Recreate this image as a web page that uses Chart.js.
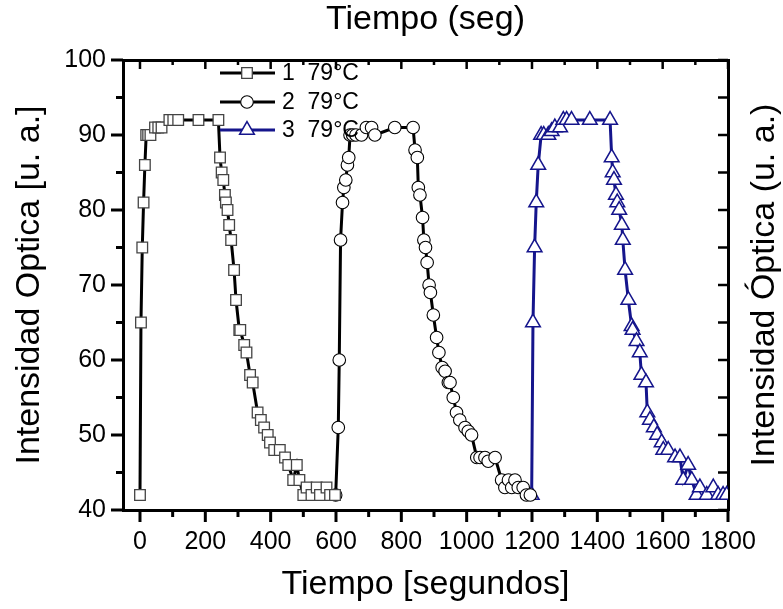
<!DOCTYPE html>
<html lang="es">
<head>
<meta charset="utf-8">
<title>Intensidad óptica vs tiempo</title>
<script src="https://cdn.jsdelivr.net/npm/chart.js@4.4.1/dist/chart.umd.min.js"></script>
<style>
  html, body { margin: 0; padding: 0; background: #fff; }
  canvas { display: block; }
</style>
</head>
<body>
<canvas id="grafico" width="783" height="609"></canvas>
<script>
// Datos (tiempo en segundos, intensidad en u. a.)
const tiempo1 = [0, 3, 7, 11, 15, 19, 25, 32, 46, 56, 66, 90, 102, 117, 179, 240,
  245, 250, 255, 260, 263, 268, 273, 279, 288, 294, 304, 307, 319, 326, 337, 345,
  360, 370, 380, 391, 398, 411, 428, 444, 454, 469, 480, 488, 500, 510, 525, 541,
  551, 571, 582, 597];
const intensidad1 = [42, 65, 75, 81, 86, 90, 90, 90, 91, 91, 91, 92, 92, 92, 92, 92,
  87, 85, 84, 82, 81, 80, 78, 76, 72, 68, 64, 64, 62, 61, 58, 57,
  53, 52, 51, 50, 49, 48, 48, 47, 46, 44, 46, 44, 42, 43, 42, 43,
  42, 43, 42, 42];

const tiempo2 = [599, 607, 610, 614, 620, 624, 630, 635, 639, 643, 651, 661, 678, 693,
  709, 719, 780, 836, 842, 849, 852, 857, 865, 869, 874, 879, 885, 889, 898, 908,
  915, 925, 934, 944, 949, 959, 969, 979, 995, 1005, 1015, 1031, 1041, 1056, 1066,
  1087, 1107, 1117, 1128, 1138, 1148, 1158, 1173, 1183, 1195];
const intensidad2 = [42, 51, 60, 76, 81, 83, 84, 86, 87, 90, 90, 90, 90, 91,
  91, 90, 91, 91, 88, 87, 83, 82, 79, 76, 75, 73, 70, 69, 66, 63,
  61, 59, 58.5, 57, 57, 55, 53, 52, 51, 50.5, 50, 47, 47, 47, 46.5,
  47, 44, 43, 44, 43, 44, 43, 43, 42, 42];

const tiempo3 = [1199, 1203, 1208, 1213, 1219, 1228, 1236, 1250, 1260, 1270, 1286, 1296,
  1306, 1321, 1377, 1439, 1444, 1447, 1451, 1457, 1461, 1467, 1475, 1478, 1485, 1495,
  1505, 1508, 1520, 1530, 1535, 1549, 1553, 1561, 1573, 1583, 1597, 1602, 1617, 1638,
  1653, 1663, 1678, 1689, 1704, 1714, 1735, 1755, 1770, 1785, 1796];
const intensidad3 = [42, 65, 75, 81, 86, 90, 90, 90, 90.5, 91, 91, 92,
  92, 92, 92, 92, 87, 85, 84, 82, 81, 80, 78, 76, 72, 68,
  64.5, 64, 62.5, 61, 58, 57, 53, 52, 51, 50, 49, 48, 48, 47,
  47, 44, 46, 44, 42, 43, 42, 43, 42, 42, 42];

const etiquetas = ['1  79°C', '2  79°C', '3  79°C'];
const ticksX = [0, 200, 400, 600, 800, 1000, 1200, 1400, 1600, 1800];
const ticksY = [40, 50, 60, 70, 80, 90, 100];

const AZUL = '#15158c';
const FUENTE = '"Liberation Sans", Arial, sans-serif';

function puntos(xs, ys) {
  return xs.map((x, i) => ({ x: x, y: ys[i] }));
}

function linea(ctx, x1, y1, x2, y2, ancho) {
  ctx.lineWidth = ancho;
  ctx.beginPath();
  ctx.moveTo(x1, y1);
  ctx.lineTo(x2, y2);
  ctx.stroke();
}

// marcas de los ejes, leyenda interna y titulo del eje derecho
const extras = {
  id: 'extras',
  afterDraw(chart) {
    const { ctx, chartArea: a, scales: { x, y } } = chart;
    ctx.save();
    ctx.strokeStyle = '#000';

    for (let v = 0; v <= 1800; v += 100) {
      const px = x.getPixelForValue(v);
      const mayor = v % 200 === 0;
      linea(ctx, px, a.bottom, px, a.bottom + (mayor ? 12 : 7), 3);
      linea(ctx, px, a.top, px, a.top + (mayor ? 9 : 5), 2.5);
    }
    for (let v = 40; v <= 100; v += 5) {
      const py = y.getPixelForValue(v);
      const mayor = v % 10 === 0;
      linea(ctx, a.left, py, a.left - (mayor ? 12 : 7), py, 3);
      linea(ctx, a.right, py, a.right - 10, py, 2.5);
    }

    // leyenda
    const filas = [73, 102, 130];
    chart.data.datasets.forEach((ds, i) => {
      const fy = filas[i];
      ctx.strokeStyle = ds.borderColor;
      linea(ctx, 220, fy, 275, fy, 3);
      ctx.fillStyle = ds.pointBackgroundColor;
      ctx.strokeStyle = ds.pointBorderColor;
      ctx.lineWidth = ds.pointBorderWidth;
      Chart.helpers.drawPoint(ctx, {
        pointStyle: ds.pointStyle,
        radius: ds.pointRadius,
        borderWidth: ds.pointBorderWidth,
        rotation: 0
      }, 247, fy);
      ctx.fillStyle = '#000';
      ctx.font = '23px ' + FUENTE;
      ctx.textAlign = 'left';
      ctx.textBaseline = 'middle';
      ctx.fillText(ds.label, 282, fy + 1);
    });

    // titulo del eje derecho (se lee de abajo hacia arriba)
    ctx.translate(765, (a.top + a.bottom) / 2);
    ctx.rotate(-Math.PI / 2);
    ctx.fillStyle = '#000';
    ctx.font = '34px ' + FUENTE;
    ctx.textAlign = 'center';
    ctx.textBaseline = 'middle';
    ctx.fillText('Intensidad Óptica (u. a.)', 0, 0);
    ctx.restore();
  }
};

const serie = (label, xs, ys, estilo, radio, color, borde, ancho) => ({
  label: label,
  data: puntos(xs, ys),
  borderColor: color,
  borderWidth: 3,
  pointStyle: estilo,
  pointRadius: radio,
  pointHoverRadius: radio,
  pointBackgroundColor: '#fff',
  pointBorderColor: borde,
  pointBorderWidth: ancho,
  tension: 0,
  clip: 0
});

const fuenteTicks = { family: FUENTE, size: 25 };
const fuenteTitulo = { family: FUENTE, size: 34, lineHeight: 1 };

new Chart(document.getElementById('grafico'), {
  type: 'line',
  data: {
    datasets: [
      serie(etiquetas[0], tiempo1, intensidad1, 'rect', 7.5, '#000', '#444', 1.3),
      serie(etiquetas[1], tiempo2, intensidad2, 'circle', 6.3, '#000', '#000', 1.1),
      serie(etiquetas[2], tiempo3, intensidad3, 'triangle', 8.5, AZUL, AZUL, 1.5)
    ]
  },
  options: {
    responsive: false,
    animation: false,
    devicePixelRatio: 1,
    layout: { padding: 0 },
    plugins: {
      legend: { display: false },
      tooltip: { enabled: false }
    },
    scales: {
      x: {
        type: 'linear',
        position: 'bottom',
        min: -52,
        max: 1800,
        afterBuildTicks: s => { s.ticks = ticksX.map(v => ({ value: v })); },
        afterFit: s => { s.height = 99; },
        ticks: {
          font: fuenteTicks, color: '#000', padding: 5, maxRotation: 0, autoSkip: false,
          callback: v => String(v)
        },
        grid: { display: false, drawTicks: true, tickLength: 12 },
        border: { display: true, color: '#000', width: 3 },
        title: {
          display: true, text: 'Tiempo [segundos]', color: '#000',
          font: fuenteTitulo, padding: { top: 0, bottom: 7 }
        }
      },
      x2: {
        type: 'linear',
        position: 'top',
        min: -52,
        max: 1800,
        afterFit: s => { s.height = 60; },
        ticks: { display: false },
        grid: { display: false, drawTicks: false },
        border: { display: true, color: '#000', width: 3 },
        title: {
          display: true, text: 'Tiempo (seg)', color: '#000',
          font: fuenteTitulo, padding: { top: 3, bottom: 0 }
        }
      },
      y: {
        type: 'linear',
        position: 'left',
        min: 40,
        max: 100,
        afterBuildTicks: s => { s.ticks = ticksY.map(v => ({ value: v })); },
        afterFit: s => { s.width = 123; },
        ticks: { font: fuenteTicks, color: '#000', padding: 5, callback: v => String(v) },
        grid: { display: false, drawTicks: true, tickLength: 12 },
        border: { display: true, color: '#000', width: 3 },
        title: {
          display: true, text: 'Intensidad Optica [u. a.]', color: '#000',
          font: fuenteTitulo, padding: { top: 13, bottom: 0 }
        }
      },
      y2: {
        type: 'linear',
        position: 'right',
        min: 40,
        max: 100,
        afterFit: s => { s.width = 55; },
        ticks: { display: false },
        grid: { display: false, drawTicks: false },
        border: { display: true, color: '#000', width: 3 }
      }
    }
  },
  plugins: [extras]
});
</script>
</body>
</html>
